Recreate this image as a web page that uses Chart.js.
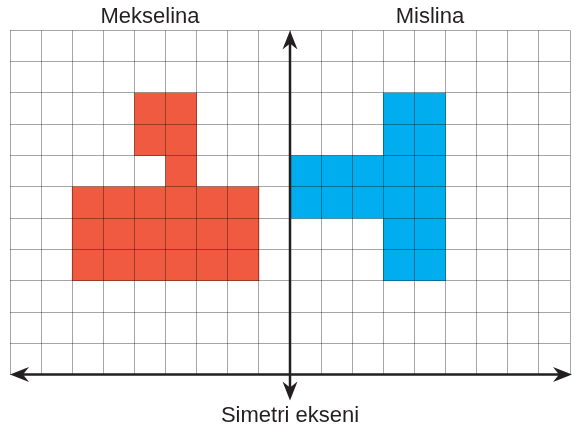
<!DOCTYPE html>
<html>
<head>
<meta charset="utf-8">
<script src="https://cdn.jsdelivr.net/npm/chart.js@4/dist/chart.umd.min.js"></script>
<style>
  html, body { margin: 0; padding: 0; background: #fff; }
  #wrap { width: 587px; height: 430px; }
</style>
</head>
<body>
<div id="wrap"><canvas id="grid" width="587" height="430"></canvas></div>
<script>
// Names above each half
const names = ['Mekselina', 'Mislina'];
const nameX = [-4.5, 4.5];

// Mekselina (red): column left edge, bottom and top of each filled run
const redX = [-7, -6, -5, -5, -4, -3, -2];
const redFrom = [3, 3, 3, 7, 3, 3, 3];
const redTo = [6, 6, 6, 9, 9, 6, 6];

// Mislina (blue)
const blueX = [0, 1, 2, 3, 4];
const blueFrom = [5, 5, 5, 3, 3];
const blueTo = [7, 7, 7, 9, 9];

// grid extent in cells
const xMin = -9, xMax = 9;
const yMin = 0, yMax = 11;

const ink = '#231f20';
const gridColor = 'rgba(0,0,0,0.35)';

function toBars(xs, from, to) {
    return xs.map((x, i) => ({ x: x + 0.5, y: [from[i], to[i]] }));
}

function arrowHead(ctx, tx, ty, dx, dy) {
    const L = 19, W = 7.5, N = 13;
    const px = -dy, py = dx;
    ctx.beginPath();
    ctx.moveTo(tx, ty);
    ctx.lineTo(tx - dx * L + px * W, ty - dy * L + py * W);
    ctx.lineTo(tx - dx * N, ty - dy * N);
    ctx.lineTo(tx - dx * L - px * W, ty - dy * L - py * W);
    ctx.closePath();
    ctx.fill();
}

// symmetry axes with arrows, placed from the scales
const axesArrows = {
    id: 'axesArrows',
    afterDraw(chart) {
        const ctx = chart.ctx;
        const xs = chart.scales.x, ys = chart.scales.y;
        const x0 = xs.getPixelForValue(0);
        const y0 = ys.getPixelForValue(yMin);
        const top = ys.getPixelForValue(yMax);
        const bottomTip = y0 + 26;
        const leftTip = xs.left;
        const rightTip = xs.right + 2;
        ctx.save();
        ctx.strokeStyle = ink;
        ctx.fillStyle = ink;
        ctx.lineWidth = 2.5;
        ctx.beginPath();
        ctx.moveTo(x0, top + 12);
        ctx.lineTo(x0, bottomTip - 12);
        ctx.moveTo(leftTip + 12, y0);
        ctx.lineTo(rightTip - 12, y0);
        ctx.stroke();
        arrowHead(ctx, x0, top, 0, -1);
        arrowHead(ctx, x0, bottomTip, 0, 1);
        arrowHead(ctx, leftTip, y0, -1, 0);
        arrowHead(ctx, rightTip, y0, 1, 0);
        ctx.restore();
    }
};

new Chart(document.getElementById('grid'), {
    type: 'bar',
    data: {
        datasets: [
            {
                label: names[0],
                data: toBars(redX, redFrom, redTo),
                backgroundColor: '#ef5a40'
            },
            {
                label: names[1],
                data: toBars(blueX, blueFrom, blueTo),
                backgroundColor: '#00aeef'
            }
        ]
    },
    options: {
        responsive: false,
        animation: false,
        events: [],
        datasets: {
            bar: {
                grouped: false,
                barPercentage: 1,
                categoryPercentage: 1,
                borderWidth: 0
            }
        },
        layout: { padding: { left: 10, right: 17, top: 4, bottom: 0 } },
        plugins: {
            legend: { display: false },
            tooltip: { enabled: false }
        },
        scales: {
            x: {
                type: 'linear',
                min: xMin,
                max: xMax,
                offset: false,
                ticks: { display: false, stepSize: 1 },
                grid: { color: gridColor, lineWidth: 1, drawTicks: false, offset: false, z: 1 },
                border: { display: false },
                title: {
                    display: true,
                    text: 'Simetri ekseni',
                    color: ink,
                    font: { family: 'Liberation Sans', size: 22 },
                    padding: { top: 28, bottom: 1 }
                }
            },
            x2: {
                type: 'linear',
                position: 'top',
                min: xMin,
                max: xMax,
                offset: false,
                afterBuildTicks: (scale) => {
                    scale.ticks = nameX.map(v => ({ value: v }));
                },
                ticks: {
                    autoSkip: false,
                    maxRotation: 0,
                    padding: 0,
                    color: ink,
                    font: { family: 'Liberation Sans', size: 22 },
                    callback: (v, i) => names[i]
                },
                grid: { display: false, drawTicks: false, offset: false },
                border: { display: false }
            },
            y: {
                min: yMin,
                max: yMax,
                ticks: { display: false, stepSize: 1 },
                grid: { color: gridColor, lineWidth: 1, drawTicks: false, z: 1 },
                border: { display: false }
            }
        }
    },
    plugins: [axesArrows]
});
</script>
</body>
</html>
